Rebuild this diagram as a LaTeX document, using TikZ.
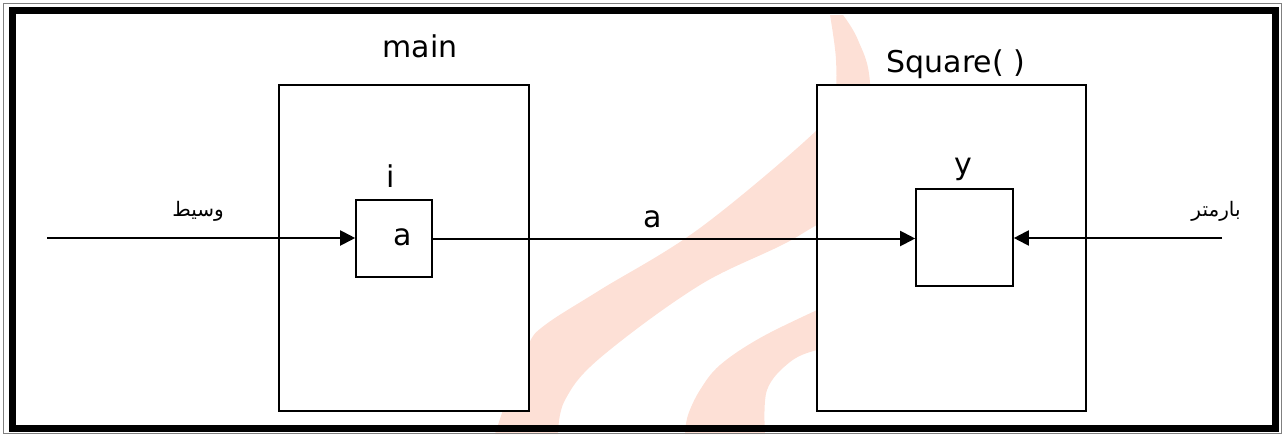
\documentclass[tikz,border=0pt]{standalone}
\usepackage{fontspec}
\setmainfont{DejaVu Sans}
\newfontfamily\arabicfont[Script=Arabic]{DejaVu Sans}
\TeXXeTstate=1
\usetikzlibrary{arrows.meta}
\definecolor{wm}{RGB}{253,224,214}
\tikzset{
  box/.style={draw=black, fill=white, line width=1.6pt, inner sep=0pt},
  arr/.style={line width=2pt, -{Triangle[length=15pt,width=15pt]}},
  lbl/.style={inner sep=0pt, font=\fontsize{30}{36}\selectfont},
  arlbl/.style={inner sep=0pt, font=\arabicfont\fontsize{20}{24}\selectfont}
}
\begin{document}
\begin{tikzpicture}[x=1pt,y=-1pt]
\useasboundingbox (0,0) rectangle (1282,434);
% watermark
\fill[wm] plot[smooth,tension=0.6] coordinates {(830,15) (836,60) (834,100) (817,130) (700,228) (600,290) (545,325) (528,345) (510,390) (495,434)}
  -- plot[smooth,tension=0.6] coordinates {(558,434) (565,400) (600,358) (700,285) (800,235) (868,180) (870,83) (858,40) (843,15)} -- cycle;
\fill[wm] plot[smooth,tension=0.6] coordinates {(840,300) (817,310) (760,338) (720,365) (700,390) (688,415) (685,434)}
  -- plot[smooth,tension=0.6] coordinates {(765,434) (767,390) (790,362) (817,350) (850,345)} -- cycle;
% frame
\draw[gray, line width=1pt] (3,3) rectangle (1281,433);
\draw[black, line width=7pt] (12,10.5) rectangle (1275.5,428);
% boxes
\node[box, minimum width=250pt, minimum height=326pt] (mainbox) at (404,248) {};
\node[box, minimum width=269pt, minimum height=326pt] (sqbox) at (951.5,248) {};
\node[box, minimum width=76pt, minimum height=77pt] (ibox) at (394,238.5) {};
\node[box, minimum width=97pt, minimum height=97pt] (ybox) at (964.5,237.5) {};
\coordinate (lstart) at (47,238);
\coordinate (rstart) at (1222,238);
% connectors
\draw[arr] (lstart) -- (lstart -| ibox.west);
\draw[arr] (ibox.east) -- (ibox.east -| ybox.west);
\draw[arr] (rstart) -- (rstart -| ybox.east);
% labels
\node[lbl, anchor=base] (tmain) at (420,57) {main};
\node[lbl, anchor=base] (tsq) at (956,72) {Square(~)};
\node[lbl, anchor=base] (ti) at (391,187) {i};
\node[lbl, anchor=base] (ta) at (403,245) {a};
\node[lbl, anchor=base] (tmid) at (653,227) {a};
\node[lbl, anchor=base] (ty) at (963,174) {y};
\node[arlbl, anchor=base] (tws) at (198,216) {\beginR وسيط\endR};
\node[arlbl, anchor=base] (tbr) at (1216,216) {\beginR بارمتر\endR};
\end{tikzpicture}
\end{document}
